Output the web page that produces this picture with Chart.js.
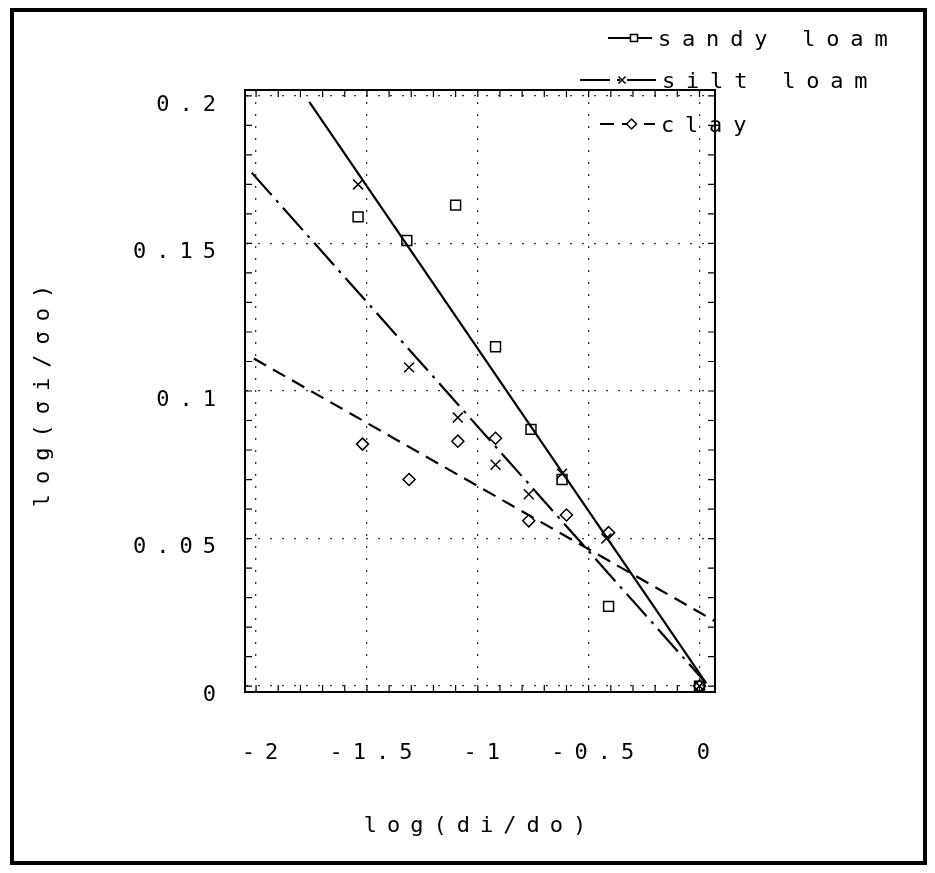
<!DOCTYPE html>
<html>
<head>
<meta charset="utf-8">
<script src="https://cdn.jsdelivr.net/npm/chart.js@4.4.0/dist/chart.umd.min.js"></script>
<style>
  html, body { margin: 0; padding: 0; background: #fff; }
  #wrap { position: relative; width: 935px; height: 873px; }
  #frame { position: absolute; left: 10px; top: 8px; width: 909px; height: 849px; border: 4px solid #000; pointer-events: none; }
</style>
</head>
<body>
<div id="wrap">
  <canvas id="myChart" width="935" height="873"></canvas>
  <div id="frame"></div>
</div>
<script>
// measured points
const sandyX = [-1.54, -1.32, -1.10, -0.92, -0.76, -0.62, -0.41, 0];
const sandyY = [0.159, 0.151, 0.163, 0.115, 0.087, 0.070, 0.027, 0];
const siltX = [-1.54, -1.31, -1.09, -0.92, -0.77, -0.62, -0.42, 0];
const siltY = [0.170, 0.108, 0.091, 0.075, 0.065, 0.072, 0.050, 0];
const clayX = [-1.52, -1.31, -1.09, -0.92, -0.77, -0.60, -0.41, 0];
const clayY = [0.082, 0.070, 0.083, 0.084, 0.056, 0.058, 0.052, 0];

// fitted lines (end points)
const sandyFitX = [-1.76, 0.03];
const sandyFitY = [0.198, 0.001];
const siltFitX = [-2.02, 0.03];
const siltFitY = [0.174, 0.001];
const clayFitX = [-2.01, 0.07];
const clayFitY = [0.111, 0.022];

const seriesNames = ['sandy loam', 'silt loam', 'clay'];
const xTicks = [-2, -1.5, -1, -0.5, 0];
const yTicks = [0, 0.05, 0.1, 0.15, 0.2];

const FONT = 'DejaVu Sans Mono';

const pairs = (xs, ys) => xs.map((x, i) => ({ x: x, y: ys[i] }));

const markerStyles = ['rect', 'crossRot', 'rectRot'];
const dashes = [[], [30, 7, 3, 7], [14, 8]];

const pointSets = [pairs(sandyX, sandyY), pairs(siltX, siltY), pairs(clayX, clayY)];
const fitSets = [pairs(sandyFitX, sandyFitY), pairs(siltFitX, siltFitY), pairs(clayFitX, clayFitY)];

let datasets = [];
for (let i = 0; i < 3; i++) {
  datasets.push({
    label: seriesNames[i],
    data: pointSets[i],
    showLine: false,
    pointStyle: markerStyles[i],
    pointRadius: i === 2 ? 6 : 7,
    borderColor: '#000',
    backgroundColor: 'rgba(0,0,0,0)',
    borderWidth: 1.5
  });
  datasets.push({
    label: seriesNames[i] + ' fit',
    data: fitSets[i],
    showLine: true,
    pointRadius: 0,
    borderColor: '#000',
    borderWidth: 2.2,
    borderDash: dashes[i],
    fill: false
  });
}

// frame on top/right + small inward ticks + legend
const framePlugin = {
  id: 'framePlugin',
  beforeDraw(chart) {
    chart.ctx.letterSpacing = '10px';
  },
  afterDatasetsDraw(chart) {
    const { ctx, chartArea: a, scales } = chart;
    ctx.save();
    ctx.setLineDash([]);
    ctx.strokeStyle = '#000';
    ctx.lineWidth = 2;
    ctx.strokeRect(a.left, a.top, a.right - a.left, a.bottom - a.top);
    ctx.lineWidth = 1.2;
    ctx.beginPath();
    for (let k = 0; k <= 20; k++) {
      const py = scales.y.getPixelForValue(k / 100);
      ctx.moveTo(a.left, py); ctx.lineTo(a.left + 7, py);
      ctx.moveTo(a.right, py); ctx.lineTo(a.right - 7, py);
    }
    for (let k = -20; k <= 0; k++) {
      const px = scales.x.getPixelForValue(k / 10);
      ctx.moveTo(px, a.bottom); ctx.lineTo(px, a.bottom - 7);
      ctx.moveTo(px, a.top); ctx.lineTo(px, a.top + 7);
    }
    ctx.stroke();
    ctx.restore();
  },
  afterDraw(chart) {
    const ctx = chart.ctx;
    const rows = [
      { y: 38, x0: 608, x1: 652 },
      { y: 80, x0: 580, x1: 656 },
      { y: 124, x0: 600, x1: 655 }
    ];
    ctx.save();
    ctx.font = '22px "' + FONT + '"';
    ctx.letterSpacing = '10.8px';
    ctx.textBaseline = 'middle';
    rows.forEach((r, i) => {
      const pts = chart.data.datasets[i * 2];
      const line = chart.data.datasets[i * 2 + 1];
      ctx.strokeStyle = '#000';
      ctx.lineWidth = 2;
      ctx.setLineDash(line.borderDash);
      ctx.beginPath();
      ctx.moveTo(r.x0, r.y); ctx.lineTo(r.x1, r.y);
      ctx.stroke();
      ctx.setLineDash([]);
      ctx.lineWidth = 1.5;
      ctx.fillStyle = '#fff';
      Chart.helpers.drawPoint(ctx, { pointStyle: pts.pointStyle, radius: 5, borderWidth: 1.5 }, (r.x0 + r.x1) / 2 + 4, r.y);
      ctx.fillStyle = '#000';
      ctx.fillText(pts.label, r.x1 + 6, r.y + 2);
    });
    ctx.restore();
  }
};

const config = {
  type: 'scatter',
  data: { datasets: datasets },
  options: {
    responsive: false,
    animation: false,
    layout: { padding: { left: 30, top: 90, right: 220, bottom: 30 } },
    plugins: { legend: { display: false }, tooltip: { enabled: false } },
    scales: {
      x: {
        type: 'linear',
        min: -2.05,
        max: 0.07,
        afterBuildTicks: (s) => { s.ticks = xTicks.map(v => ({ value: v })); },
        afterFit: (s) => { s.height = 873 - 30 - 692; },
        border: { display: true, color: '#000', width: 2, dash: [2, 10] },
        grid: { color: '#333', lineWidth: 1.3, drawTicks: false },
        ticks: { color: '#000', padding: 48, labelOffset: 9, maxRotation: 0, font: { family: FONT, size: 22 }, callback: (v) => String(v) },
        title: { display: true, text: 'log(di/do)', color: '#000', font: { family: FONT, size: 22 }, padding: 4 }
      },
      y: {
        type: 'linear',
        min: -0.002,
        max: 0.202,
        afterBuildTicks: (s) => { s.ticks = yTicks.map(v => ({ value: v })); },
        afterFit: (s) => { s.width = 245 - 30; },
        border: { display: true, color: '#000', width: 2, dash: [2, 10] },
        grid: { color: '#333', lineWidth: 1.3, drawTicks: false },
        ticks: { color: '#000', padding: 19, labelOffset: 9, font: { family: FONT, size: 22 }, callback: (v) => String(v) },
        title: { display: true, text: 'log(σi/σo)', color: '#000', font: { family: FONT, size: 22 }, padding: 0 }
      }
    }
  },
  plugins: [framePlugin]
};

const ctx = document.getElementById('myChart');

new Chart(ctx, config);
</script>
</body>
</html>
